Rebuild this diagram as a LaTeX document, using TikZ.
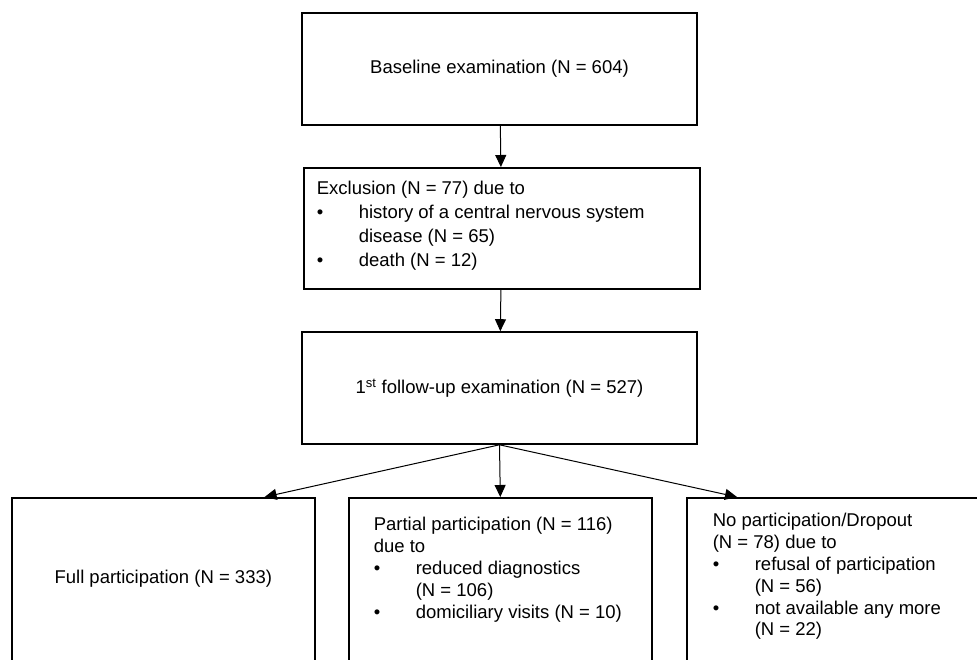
\documentclass[tikz,border=0pt]{standalone}
\usepackage{fontspec}
\setmainfont{Liberation Sans}
\usepackage{tikz}
\usetikzlibrary{arrows.meta,positioning}
\newcommand{\bulpt}{\makebox[42pt][l]{\textbullet}}
\newcommand{\bulgap}{\hspace*{42pt}}

\begin{document}
\begin{tikzpicture}[x=1pt,y=-1pt,
stage/.style={draw,line width=1.6pt,align=center,minimum width=395pt,minimum height=112pt,font=\fontsize{18.5}{24}\selectfont},
listbox/.style={draw,line width=1.6pt,inner sep=0pt,anchor=north west,font=\fontsize{18.5}{24}\selectfont},
lowbox/.style={listbox,font=\fontsize{18.5}{21.8}\selectfont},
arr/.style={-{Triangle[length=12pt,width=11pt]},line width=1pt}]
\useasboundingbox (0,0) rectangle (977,659);
\clip (0,0) rectangle (977,659);
\node[stage] at (499.5,69)(base){Baseline examination (N = 604)};
\node[listbox] at (303,167)(excl){\parbox[c][121pt][t]{396pt}{\raggedright\leftskip=13pt
\rule{0pt}{27pt}Exclusion (N = 77) due to\\
\bulpt history of a central nervous system\\
\bulgap disease (N = 65)\\
\bulpt death (N = 12)}};
\node[stage] at (499.5,388)(follow){1\textsuperscript{st} follow-up examination (N = 527)};
\node[lowbox] at (11,497)(full){\parbox[c][203pt][t]{303pt}{\centering
\rule{0pt}{86pt}Full participation (N = 333)}};
\node[lowbox] at (348,497)(partial){\parbox[c][203pt][t]{303pt}{\raggedright\leftskip=25pt
\rule{0pt}{33pt}Partial participation (N = 116)\\
due to\\
\bulpt reduced diagnostics\\
\bulgap (N = 106)\\
\bulpt domiciliary visits (N = 10)}};
\node[lowbox] at (686,497)(dropout){\parbox[c][203pt][t]{303pt}{\raggedright\leftskip=26pt
\rule{0pt}{29pt}No participation/Dropout\\
(N = 78) due to\\
\bulpt refusal of participation\\
\bulgap (N = 56)\\
\bulpt not available any more\\
\bulgap (N = 22)}};
\draw[arr](base)--(excl);\draw[arr](excl)--(follow);
\draw[arr](follow.south)--([xshift=-51pt]full.north east);
\draw[arr](follow.south)--(partial.north);
\draw[arr](follow.south)--([xshift=51pt]dropout.north west);
\end{tikzpicture}
\end{document}
